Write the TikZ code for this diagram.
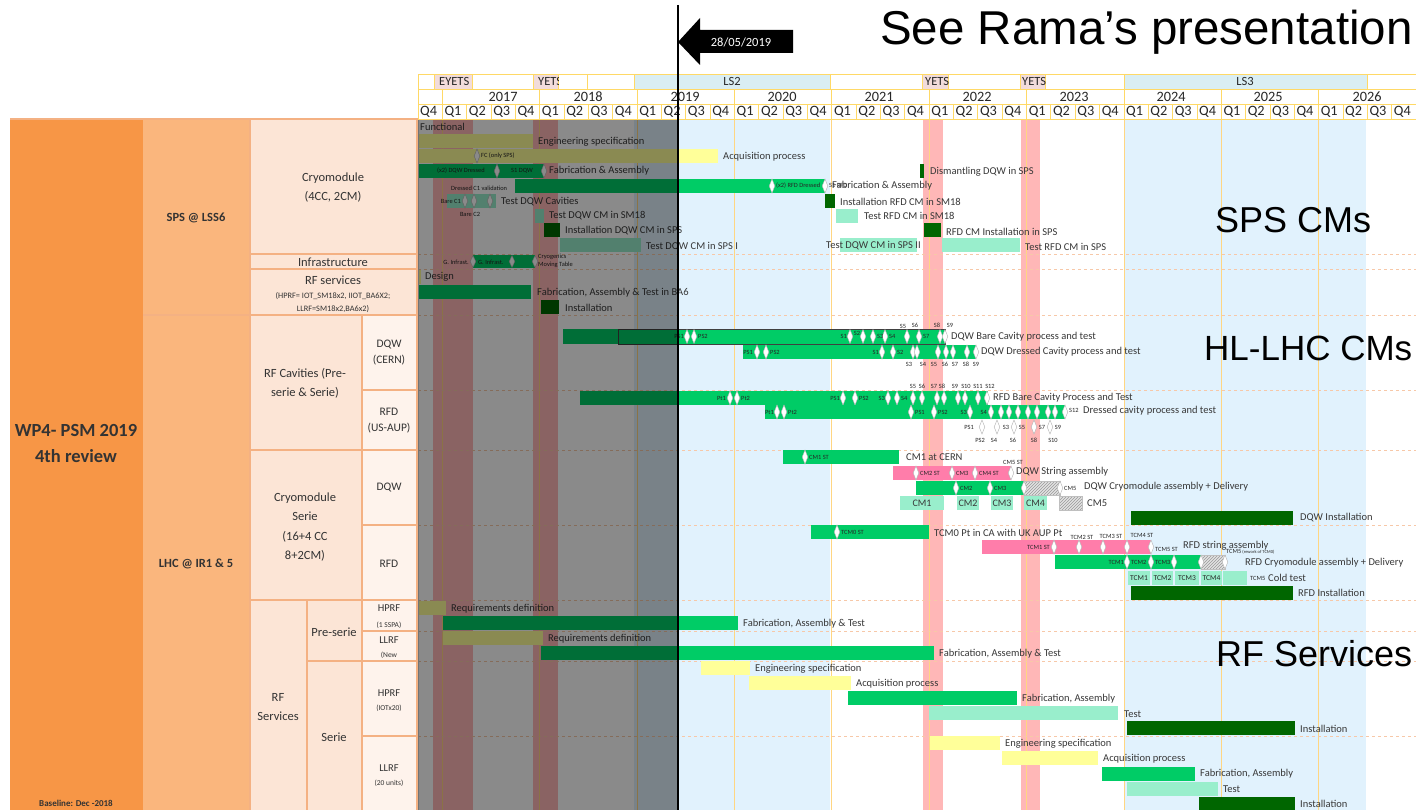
\documentclass[tikz,border=0pt]{standalone}
\usepackage{fontspec}
\setmainfont{Carlito}
\newfontfamily\arialf{Liberation Sans}
\usetikzlibrary{patterns}
\newcounter{nd}
\definecolor{cy}{RGB}{255,255,153}
\definecolor{cg}{RGB}{0,204,102}
\definecolor{clg}{RGB}{153,238,204}
\definecolor{cdg}{RGB}{0,102,0}
\definecolor{cpk}{RGB}{255,125,170}
\definecolor{cblue}{RGB}{225,242,253}
\definecolor{cred}{RGB}{255,183,183}
\definecolor{hyear}{RGB}{255,217,102}
\definecolor{ylin}{RGB}{255,214,130}
\definecolor{o1}{RGB}{247,150,70}
\definecolor{o2}{RGB}{250,182,125}
\definecolor{o3}{RGB}{252,229,214}
\definecolor{o4}{RGB}{254,243,236}
\definecolor{oline}{RGB}{244,177,131}
\definecolor{hpink}{RGB}{242,220,219}
\definecolor{hblue}{RGB}{218,238,243}
\tikzset{
  x=1pt, y=-1pt,
  gt/.style={inner sep=0pt, anchor=west, font=\fontsize{10.5}{12}\selectfont, text=black!78},
  st/.style={inner sep=0pt, font=\fontsize{6.4}{7}\selectfont, text=black!85},
  cbx/.style={inner sep=0pt, font=\fontsize{10}{12}\selectfont, text=black!78},
  dia/.style={fill=white, draw=gray!60, line width=0.4pt},
  hd/.style={draw=hyear, line width=0.8pt},
  hq/.style={inner sep=0pt, font=\fontsize{14.3}{15}\selectfont, text=black!85},
  lp/.style={inner sep=0pt, align=center, text=black!80},
  big/.style={inner sep=0pt, anchor=base west, font=\arialf\fontsize{36}{40}\selectfont},
  sep/.style={oline!70, line width=0.5pt, dashed},
  pb/.style={oline, line width=1.1pt}
}
\newcommand\gtx[3]{\stepcounter{nd}\node[gt] (n\arabic{nd}) at (#1,#2) {#3};}
\newcommand\stx[4]{\stepcounter{nd}\node[st,anchor=#1] (n\arabic{nd}) at (#2,#3) {#4};}
\newcommand\gbr[4]{\fill[#4] (#1,#3) rectangle (#2,#3+14);}
\newcommand\hbr[3]{\fill[gray!22] (#1,#3) rectangle (#2,#3+14);\fill[pattern=north east lines,pattern color=gray!80] (#1,#3) rectangle (#2,#3+14);\draw[gray!50,line width=0.3pt] (#1,#3) rectangle (#2,#3+14);}
\newcommand\mdia[3][7]{\filldraw[dia] (#2,#3-#1) -- (#2+2.8,#3) -- (#2,#3+#1) -- (#2-2.8,#3) -- cycle;}
\begin{document}
\begin{tikzpicture}
\useasboundingbox (0,0) rectangle (1416,810);
\fill[white] (0,0) rectangle (1416,810);
% ---------- chart background ----------
\fill[cblue] (634,119) rectangle (830,810);
\fill[cblue] (1124,119) rectangle (1366,810);
\foreach \a/\b in {433/473,533/558,923/943,1021/1040}{\fill[cred] (\a,119) rectangle (\b,810);}
\foreach \k in {1,5,...,37}{\draw[ylin,line width=0.7pt] ({418+\k*24.341},119) -- ({418+\k*24.341},810);}
\foreach \yy in {254,269,315,390,450,525,600,631,661,736}{\draw[sep] (418,\yy) -- (1416,\yy);}
% ---------- left panel ----------
\fill[o1] (10,119) rectangle (143,810);
\fill[o2] (143,119) rectangle (250,810);
\fill[o3] (250,119) rectangle (418,810);
\fill[o4] (362,315) rectangle (418,810);
\draw[pb] (10,119) -- (418,119);
\draw[pb] (143,315) -- (418,315);
\draw[pb] (250,254) -- (418,254);
\draw[pb] (250,269) -- (418,269);
\draw[pb] (250,119) -- (250,810);
\draw[pb] (362,315) -- (362,810);
\draw[pb] (307,600) -- (307,810);
\draw[pb] (362,390) -- (418,390);
\draw[pb] (250,450) -- (418,450);
\draw[pb] (362,525) -- (418,525);
\draw[pb] (250,600) -- (418,600);
\draw[pb] (362,631) -- (418,631);
\draw[pb] (307,661) -- (418,661);
\draw[pb] (362,736) -- (418,736);
\draw[pb] (417,119) -- (417,810);
\node[lp,font=\bfseries\fontsize{18.5}{26}\selectfont] (wp) at (76,444) {WP4- PSM 2019\\4th review};
\node[lp,font=\bfseries\fontsize{9}{10}\selectfont] (base) at (76,803) {Baseline: Dec -2018};
\node[lp,font=\bfseries\fontsize{12.5}{14}\selectfont] (sps) at (196,218) {SPS @ LSS6};
\node[lp,font=\bfseries\fontsize{12.5}{14}\selectfont] (lhc) at (196,564) {LHC @ IR1 \& 5};
\node[lp,font=\fontsize{12.5}{19}\selectfont] (cryo) at (333,187.5) {Cryomodule\\(4CC, 2CM)};
\node[lp,font=\fontsize{12.5}{14}\selectfont] (infra) at (333,262) {Infrastructure};
\node[lp,font=\fontsize{12.5}{14}\selectfont] (rfs) at (333,280) {RF services};
\node[lp,font=\fontsize{8.3}{13}\selectfont] (rfsd) at (333,302.5) {(HPRF= IOT\_SM18x2, IIOT\_BA6X2;\\LLRF=SM18x2,BA6x2)};
\node[lp,font=\fontsize{12.5}{19}\selectfont] (rfc) at (305,383.5) {RF Cavities (Pre-\\serie \& Serie)};
\node[lp,font=\fontsize{11.5}{16}\selectfont] (dqwc) at (389,353) {DQW\\(CERN)};
\node[lp,font=\fontsize{11.5}{16}\selectfont] (rfdu) at (389,421) {RFD\\(US-AUP)};
\node[lp,font=\fontsize{12.5}{19.3}\selectfont] (cms) at (305,527) {Cryomodule\\Serie\\(16+4 CC\\8+2CM)};
\node[lp,font=\fontsize{11.5}{14}\selectfont] (dqw2) at (389,488) {DQW};
\node[lp,font=\fontsize{11.5}{14}\selectfont] (rfd2) at (389,564) {RFD};
\node[lp,font=\fontsize{12.5}{19}\selectfont] (rfsv) at (278,707.5) {RF\\Services};
\node[lp,font=\fontsize{12.5}{14}\selectfont] (pre) at (334,632) {Pre-serie};
\node[lp,font=\fontsize{12.5}{14}\selectfont] (ser) at (334,737) {Serie};
\node[lp,font=\fontsize{10.5}{12}\selectfont] (h1) at (389,608) {HPRF};
\node[lp,font=\fontsize{7.5}{9}\selectfont] (h1s) at (389,625) {(1 SSPA)};
\node[lp,font=\fontsize{10.5}{12}\selectfont] (l1) at (389,640) {LLRF};
\node[lp,font=\fontsize{7.5}{9}\selectfont] (l1s) at (389,655) {(New};
\node[lp,font=\fontsize{10.5}{12}\selectfont] (h2) at (389,693) {HPRF};
\node[lp,font=\fontsize{7.5}{9}\selectfont] (h2s) at (389,708) {(IOTx20)};
\node[lp,font=\fontsize{10.5}{12}\selectfont] (l2) at (389,768) {LLRF};
\node[lp,font=\fontsize{7.5}{9}\selectfont] (l2s) at (389,783) {(20 units)};
% ---------- SPS bars ----------
\gtx{420}{127}{Functional}
\gbr{418}{533}{134}{cy} \gtx{538}{142}{Engineering specification}
\gbr{418}{718}{149}{cy} \mdia{477}{156} \stx{west}{481}{156}{FC (only SPS)} \gtx{723}{157}{Acquisition process}
\gbr{418}{544}{164}{cg} \stx{west}{437}{171}{(x2) DQW Dressed} \mdia{497}{171} \stx{west}{511}{171}{S1 DQW} \mdia{544}{171} \gtx{549}{171}{Fabrication \& Assembly}
\gbr{515}{825}{179}{cg} \mdia{772}{186} \stx{west}{776}{186}{(x2) RFD Dressed} \mdia{825}{186} \stx{west}{829}{185}{S1 RFD} \gtx{832}{186}{Fabrication \& Assembly}
\stx{west}{451}{188}{Dressed C1 validation}
\gbr{447}{496}{194}{clg} \mdia{465}{201} \mdia{474}{201} \mdia{490}{201} \stx{east}{461}{201}{Bare C1} \stx{center}{470}{214}{Bare C2} \gtx{501}{202}{Test DQW Cavities}
\gbr{535}{544}{209}{clg} \gtx{549}{216}{Test DQW CM in SM18}
\gbr{544}{560}{223}{cdg} \gtx{565}{231}{Installation  DQW CM in SPS}
\gbr{560}{641}{238}{clg} \gtx{646}{247}{Test DQW CM in SPS I}
\gbr{840}{917}{238}{clg} \gtx{826}{246}{Test DQW CM in SPS II}
\gbr{942}{1020}{238}{clg} \gtx{1025}{247}{Test RFD CM in SPS}
\gbr{920}{924}{164}{cdg} \gtx{930}{172}{Dismantling DQW in SPS}
\gbr{825}{835}{194}{cdg} \gtx{840}{202}{Installation  RFD CM in SM18}
\gbr{836}{858}{209}{clg} \gtx{864}{216}{Test RFD CM in SM18}
\gbr{924}{941}{223}{cdg} \gtx{946}{232}{RFD CM Installation  in SPS}
% infrastructure
\fill[cg] (473,255) rectangle (535,268);
\mdia[6]{473}{261.5} \mdia[6]{512}{261.5} \mdia[6]{535}{261.5}
\stx{east}{469}{262}{G. Infrast.} \stx{west}{478}{262}{G. Infrast.}
\stx{west}{538}{257}{Cryogenics} \stx{west}{538}{265}{Moving Table}
% RF services SPS
\fill[cy] (418,270) rectangle (421,284); \gtx{425}{277}{Design}
\gbr{418}{531}{285}{cg} \gtx{537}{293}{Fabrication, Assembly \& Test in BA6}
\gbr{541}{559}{300}{cdg} \gtx{565}{308}{Installation}
% ---------- HL-LHC cavities ----------
\fill[cg] (563,329) rectangle (945,344);
\draw[black!75,line width=0.8pt] (618,329) rectangle (945,344);
\foreach \x in {687,694,850,863,873,885,907,919,940,945}{\mdia{\x}{336.5}}
\stx{east}{684}{336.5}{PS1} \stx{west}{698}{336.5}{PS2} \stx{east}{847}{336.5}{S1}
\stx{center}{857}{333}{S2} \stx{west}{877}{336.5}{S3} \stx{west}{889}{336.5}{S4} \stx{west}{923}{336.5}{S7}
\stx{center}{903}{326}{S5} \stx{center}{915}{325}{S6} \stx{center}{937}{325}{S8} \stx{center}{950}{325}{S9}
\gtx{951}{336.5}{DQW Bare Cavity process and test}
\fill[cg] (743,345) rectangle (976,359);
\foreach \x in {757,766,882,893,913,917,938,946,953,967,976}{\mdia{\x}{352}}
\stx{east}{753}{352}{PS1} \stx{west}{770}{352}{PS2} \stx{east}{879}{352}{S1} \stx{west}{897}{352}{S2}
\foreach \x/\s in {909/S3,923/S4,934/S5,945/S6,955/S7,966/S8,976/S9}{\stx{center}{\x}{364}{\s}}
\gtx{981}{352}{DQW Dressed  Cavity process and test}
\fill[cg] (580,391) rectangle (988,405);
\foreach \x in {730,737,843,855,888,897,913,922,937,944,958,965,978,987}{\mdia{\x}{398}}
\stx{east}{726}{398}{Pt1} \stx{west}{741}{398}{Pt2} \stx{east}{840}{398}{PS1} \stx{west}{859}{398}{PS2}
\stx{east}{885}{398}{S3} \stx{west}{901}{398}{S4}
\foreach \x/\s in {913/S5,922/S6,934/S7,942/S8,955/S9,966/S10,978/S11,990/S12}{\stx{center}{\x}{386}{\s}}
\gtx{993}{398}{RFD Bare Cavity Process and Test}
\fill[cg] (765,405) rectangle (1065,419);
\foreach \x in {777,784,911,934,970,991,1001,1009,1018,1028,1037,1048,1055,1065}{\mdia{\x}{412}}
\stx{east}{774}{412}{Pt1} \stx{west}{788}{412}{Pt2} \stx{west}{915}{412}{PS1} \stx{west}{938}{412}{PS2}
\stx{east}{967}{412}{S3} \stx{east}{987}{412}{S4} \stx{west}{1069}{410}{S12}
\gtx{1083}{411}{Dressed cavity process and test}
\foreach \x in {982,997,1014,1034,1050}{\mdia{\x}{427}}
\foreach \x/\y/\s in {969/427/PS1,980/440/PS2,1006/427/S3,994/440/S4,1022/427/S5,1013/440/S6,1042/427/S7,1034/440/S8,1058/427/S9,1053/440/S10}{\stx{center}{\x}{\y}{\s}}
% ---------- Cryomodule serie DQW ----------
\gbr{783}{899}{450}{cg} \mdia{805}{457} \stx{west}{809}{457}{CM1 ST} \gtx{906}{457}{CM1 at CERN}
\gbr{893}{1011}{466}{cpk}
\foreach \x in {916,952,975,1011}{\mdia{\x}{473}}
\stx{west}{920}{473}{CM2 ST} \stx{west}{956}{473}{CM3} \stx{west}{979}{473}{CM4 ST} \stx{center}{1013}{462}{CM5 ST}
\gtx{1016}{472}{DQW String assembly}
\gbr{916}{1024}{481}{cg} \hbr{1024}{1060}{481}
\foreach \x in {956,990,1024,1060}{\mdia{\x}{488}}
\stx{west}{960}{488}{CM2} \stx{west}{994}{488}{CM3} \stx{west}{1064}{488}{CM5}
\gtx{1084}{487}{DQW Cryomodule assembly + Delivery}
\foreach \a/\b/\s in {900/944/CM1,957/979/CM2,991/1013/CM3,1024/1047/CM4}{\gbr{\a}{\b}{496}{clg}\stepcounter{nd}\node[cbx] (n\arabic{nd}) at ({(\a+\b)/2},503) {\s};}
\hbr{1059}{1082}{496} \gtx{1087}{503}{CM5}
\gbr{1131}{1293}{511}{cdg} \gtx{1300}{518}{DQW  Installation}
% ---------- Cryomodule serie RFD ----------
\gbr{811}{929}{525}{cg} \mdia{837}{532} \stx{west}{841}{532}{TCM0 ST} \gtx{934}{533}{TCM0 Pt in CA with UK AUP Pt}
\gbr{982}{1151}{540}{cpk}
\foreach \x in {1054,1079,1103,1127,1151}{\mdia{\x}{547}}
\stx{east}{1050}{547}{TCM1 ST} \stx{center}{1082}{537}{TCM2 ST} \stx{center}{1111}{536}{TCM3 ST} \stx{center}{1142}{535}{TCM4 ST} \stx{west}{1155}{549}{TCM5 ST}
\gtx{1183}{546}{RFD string assembly}
\gbr{1055}{1201}{555}{cg} \hbr{1201}{1225}{555}
\foreach \x in {1127,1151,1174,1201,1225}{\mdia{\x}{562}}
\stx{east}{1124}{562}{TCM1} \stx{west}{1131}{562}{TCM2} \stx{west}{1155}{562}{TCM3}
\stx{west}{1226}{552}{TCM5\,{\fontsize{4.5}{5}\selectfont(rework of TCM0)}}
\gtx{1245}{563}{RFD Cryomodule assembly + Delivery}
\foreach \a/\b/\s in {1128/1150/TCM1,1152/1173/TCM2,1175/1199/TCM3,1201/1222/TCM4}{\gbr{\a}{\b}{571}{clg}\stepcounter{nd}\node[st,font=\fontsize{7.5}{8}\selectfont] (n\arabic{nd}) at ({(\a+\b)/2},578) {\s};}
\gbr{1223}{1247}{571}{clg}
\stx{west}{1250}{578}{TCM5} \gtx{1268}{578}{Cold test}
\gbr{1131}{1293}{586}{cdg} \gtx{1298}{593}{RFD  Installation}
% ---------- RF services LHC ----------
\gbr{418}{446}{601}{cy} \gtx{451}{609}{Requirements definition}
\gbr{443}{738}{616}{cg} \gtx{743}{624}{Fabrication, Assembly \& Test}
\gbr{443}{543}{631}{cy} \gtx{548}{639}{Requirements definition}
\gbr{541}{934}{646}{cg} \gtx{939}{654}{Fabrication, Assembly \& Test}
\gbr{701}{750}{661}{cy} \gtx{755}{669}{Engineering specification}
\gbr{749}{851}{676}{cy} \gtx{856}{684}{Acquisition process}
\gbr{848}{1017}{691}{cg} \gtx{1022}{699}{Fabrication, Assembly}
\gbr{929}{1118}{706}{clg} \gtx{1124}{714}{Test}
\gbr{1127}{1295}{721}{cdg} \gtx{1300}{729}{Installation}
\gbr{930}{1000}{736}{cy} \gtx{1005}{744}{Engineering specification}
\gbr{1002}{1098}{751}{cy} \gtx{1103}{759}{Acquisition process}
\gbr{1102}{1195}{767}{cg} \gtx{1200}{774}{Fabrication, Assembly}
\gbr{1127}{1218}{782}{clg} \gtx{1223}{789}{Test}
\gbr{1199}{1295}{797}{cdg} \gtx{1300}{804}{Installation}
% ---------- past overlay ----------
\fill[black,opacity=0.46] (418,119) rectangle (678,810);
\draw[black!55,line width=0.8pt] (678,119) -- (418,119) -- (418,810);
% ---------- header ----------
\foreach \a/\b/\c in {418/434/white,434/472/hpink,472/533/white,533/558/hpink,558/587/white,587/634/white,634/830/hblue,830/922/white,922/948/hpink,948/1020/white,1020/1045/hpink,1045/1124/white,1124/1367/hblue,1367/1416/white}{\filldraw[hd,fill=\c] (\a,74) rectangle (\b,89);}
\begin{scope}\clip (434,74) rectangle (472,89);\node[hq,anchor=west,font=\fontsize{12.5}{14}\selectfont] (ey) at (439,81.5) {EYETS};\end{scope}
\begin{scope}\clip (533,74) rectangle (558,89);\node[hq,anchor=west,font=\fontsize{12.5}{14}\selectfont] (ye1) at (538,81.5) {YETS};\end{scope}
\begin{scope}\clip (922,74) rectangle (948,89);\node[hq,anchor=west,font=\fontsize{12.5}{14}\selectfont] (ye2) at (925,81.5) {YETS};\end{scope}
\begin{scope}\clip (1020,74) rectangle (1045,89);\node[hq,anchor=west,font=\fontsize{12.5}{14}\selectfont] (ye3) at (1022,81.5) {YETS};\end{scope}
\node[hq,font=\fontsize{12.5}{14}\selectfont] (ls2) at (732,81.5) {LS2};
\node[hq,font=\fontsize{12.5}{14}\selectfont] (ls3) at (1245,81.5) {LS3};
\draw[hd] (418,89) rectangle (442.34,104);
\foreach \k/\xc in {0/503,1/588,2/685,3/782,4/879,5/977,6/1074,7/1171,8/1268,9/1367}{
  \pgfmathsetmacro\xa{418+(1+4*\k)*24.341}
  \pgfmathsetmacro\xb{min(418+(5+4*\k)*24.341,1416)}
  \pgfmathtruncatemacro\yr{2017+\k}
  \draw[hd] (\xa,89) rectangle (\xb,104);
  \node[hq] (yr\k) at (\xc,96.5) {\yr};
}
\foreach \i in {0,...,40}{
  \pgfmathsetmacro\xa{418+\i*24.341}
  \pgfmathsetmacro\xb{418+(\i+1)*24.341}
  \pgfmathtruncatemacro\q{mod(\i+3,4)+1}
  \draw[hd] (\xa,104) rectangle (\xb,119);
  \node[hq] (q\i) at ({(\xa+\xb)/2-1.5},111.5) {Q\q};
}
% ---------- date line and arrow ----------
\draw[black,line width=2.6pt] (678,5) -- (678,810);
\fill[black] (678,42) -- (700,18) -- (700,30) -- (793,30) -- (793,53) -- (700,53) -- (700,65) -- cycle;
\node[inner sep=0,text=white,font=\fontsize{12.5}{14}\selectfont] (date) at (741,42) {28/05/2019};
% ---------- big labels ----------
\node[big,font=\arialf\fontsize{47.5}{50}\selectfont] (title) at (880,45) {See Rama’s presentation};
\node[big] (spscm) at (1215,233) {SPS CMs};
\node[big,font=\arialf\fontsize{35}{40}\selectfont] (hlcm) at (1204,360) {HL-LHC CMs};
\node[big] (rfserv) at (1216,666) {RF Services};
\end{tikzpicture}
\end{document}
